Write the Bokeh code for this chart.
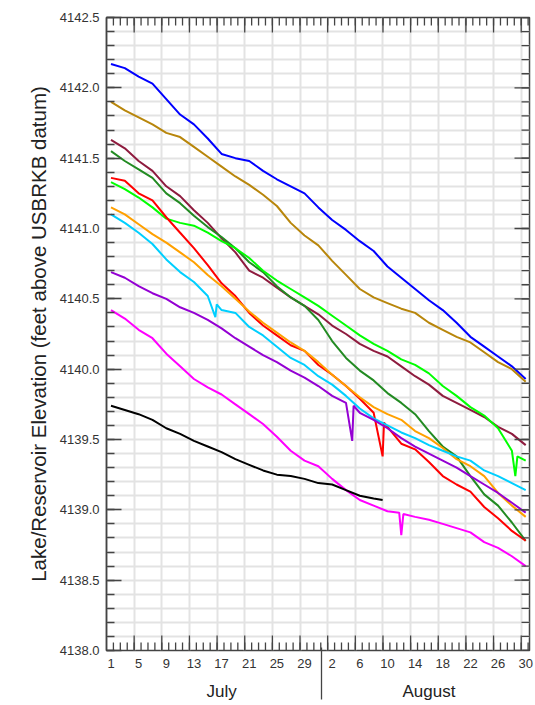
import math
from bokeh.plotting import figure
from bokeh.models import LinearAxis, FixedTicker, Grid, PrintfTickFormatter, Range1d
from bokeh.embed import file_html
from bokeh.resources import INLINE

# day number: July 1 = 1 ... July 31 = 31, Aug 1 = 32 ... Aug 31 = 62
days = [1, 3, 5, 7, 9, 11, 13, 15, 17, 19, 21, 23, 25, 27, 29, 31,
        33, 35, 37, 39, 41, 43, 45, 47, 49, 51, 53, 55, 57, 59, 61]

blue = [4142.17, 4142.14, 4142.08, 4142.03, 4141.92, 4141.81, 4141.74, 4141.64,
        4141.53, 4141.50, 4141.48, 4141.41, 4141.35, 4141.30, 4141.25, 4141.15,
        4141.06, 4140.99, 4140.91, 4140.84, 4140.73, 4140.65, 4140.57, 4140.49,
        4140.42, 4140.33, 4140.23, 4140.16, 4140.09, 4140.02, 4139.93]
gold = [4141.90, 4141.84, 4141.79, 4141.74, 4141.68, 4141.65, 4141.58, 4141.51,
        4141.44, 4141.37, 4141.31, 4141.24, 4141.16, 4141.04, 4140.95, 4140.88,
        4140.77, 4140.67, 4140.57, 4140.51, 4140.47, 4140.43, 4140.40, 4140.33,
        4140.28, 4140.23, 4140.19, 4140.12, 4140.05, 4140.00, 4139.91]
maroon = [4141.63, 4141.57, 4141.48, 4141.41, 4141.30, 4141.23, 4141.13, 4141.04,
          4140.93, 4140.83, 4140.70, 4140.65, 4140.58, 4140.51, 4140.45, 4140.39,
          4140.31, 4140.25, 4140.18, 4140.13, 4140.09, 4140.02, 4139.95, 4139.89,
          4139.81, 4139.76, 4139.71, 4139.66, 4139.59, 4139.54, 4139.46]
dkgreen = [4141.55, 4141.48, 4141.42, 4141.36, 4141.25, 4141.18, 4141.09, 4141.01,
           4140.94, 4140.86, 4140.76, 4140.69, 4140.59, 4140.51, 4140.45, 4140.35,
           4140.20, 4140.08, 4139.99, 4139.92, 4139.83, 4139.76, 4139.68, 4139.56,
           4139.45, 4139.38, 4139.24, 4139.11, 4139.03, 4138.91, 4138.78]
lime_days = days[:30] + [59.5, 59.8, 61]
lime = [4141.33, 4141.28, 4141.22, 4141.15, 4141.07, 4141.04, 4141.02, 4140.97,
        4140.91, 4140.86, 4140.79, 4140.70, 4140.63, 4140.57, 4140.51, 4140.45,
        4140.38, 4140.31, 4140.24, 4140.18, 4140.13, 4140.07, 4140.03, 4139.97,
        4139.88, 4139.81, 4139.73, 4139.67, 4139.58, 4139.42, 4139.24, 4139.38,
        4139.35]
red_days = days[:20] + [40.3, 40.5] + days[20:]
red = [4141.36, 4141.34, 4141.25, 4141.20, 4141.08, 4140.97, 4140.86, 4140.74,
       4140.61, 4140.52, 4140.40, 4140.31, 4140.24, 4140.17, 4140.13, 4140.03,
       4139.96, 4139.88, 4139.79, 4139.69, 4139.38, 4139.62, 4139.59, 4139.47,
       4139.43, 4139.34, 4139.24, 4139.18, 4139.13, 4139.02, 4138.94, 4138.85,
       4138.78]
orange = [4141.15, 4141.10, 4141.03, 4140.96, 4140.90, 4140.83, 4140.76, 4140.67,
          4140.59, 4140.50, 4140.41, 4140.33, 4140.26, 4140.19, 4140.13, 4140.05,
          4139.96, 4139.88, 4139.80, 4139.73, 4139.68, 4139.64, 4139.56, 4139.51,
          4139.44, 4139.36, 4139.31, 4139.24, 4139.12, 4139.03, 4138.95]
cyan_days = days[:8] + [16.1, 16.3] + days[8:]
cyan = [4141.10, 4141.04, 4140.97, 4140.89, 4140.78, 4140.69, 4140.62, 4140.52,
        4140.37, 4140.46, 4140.42, 4140.40, 4140.30, 4140.24, 4140.16, 4140.08,
        4140.03, 4139.95, 4139.89, 4139.81, 4139.72, 4139.65, 4139.60, 4139.55,
        4139.51, 4139.46, 4139.42, 4139.38, 4139.35, 4139.28, 4139.24, 4139.19,
        4139.14]
purple_days = days[:18] + [35.9, 36.1] + days[18:]
purple = [4140.69, 4140.65, 4140.59, 4140.54, 4140.50, 4140.44, 4140.40, 4140.35,
          4140.29, 4140.22, 4140.16, 4140.10, 4140.05, 4139.99, 4139.94, 4139.88,
          4139.81, 4139.76, 4139.49, 4139.74, 4139.69, 4139.64, 4139.58, 4139.51,
          4139.45, 4139.40, 4139.35, 4139.30, 4139.24, 4139.18, 4139.12, 4139.05,
          4138.98]
magenta_days = days[:21] + [42.7, 43.0, 43.3] + days[22:]
magenta = [4140.42, 4140.36, 4140.28, 4140.22, 4140.11, 4140.02, 4139.93, 4139.87,
           4139.82, 4139.75, 4139.68, 4139.61, 4139.52, 4139.42, 4139.35, 4139.31,
           4139.22, 4139.14, 4139.07, 4139.03, 4138.99, 4138.98, 4138.82, 4138.97,
           4138.95, 4138.93, 4138.90, 4138.87, 4138.84, 4138.77, 4138.73, 4138.67,
           4138.60]
black_days = [1, 3, 5, 7, 9, 11, 13, 15, 17, 19, 21, 23, 25, 27, 29, 31,
              33, 35, 37, 39, 40.3]
black = [4139.74, 4139.71, 4139.68, 4139.64, 4139.58, 4139.54, 4139.49, 4139.45,
         4139.41, 4139.36, 4139.32, 4139.28, 4139.25, 4139.24, 4139.22, 4139.19,
         4139.18, 4139.14, 4139.10, 4139.08, 4139.07]

series = [
    (days, blue, "#0000FF"),
    (days, gold, "#B8860B"),
    (days, maroon, "#8E1B3E"),
    (days, dkgreen, "#228B22"),
    (lime_days, lime, "#00FF00"),
    (red_days, red, "#FF0000"),
    (days, orange, "#FFA000"),
    (cyan_days, cyan, "#00CFFF"),
    (purple_days, purple, "#9400D3"),
    (magenta_days, magenta, "#FF00FF"),
    (black_days, black, "#000000"),
]

label_days = [1, 5, 9, 13, 17, 21, 25, 29, 33, 37, 41, 45, 49, 53, 57, 61]
label_text = ["1", "5", "9", "13", "17", "21", "25", "29",
              "2", "6", "10", "14", "18", "22", "26", "30"]
month_days = [17, 47]
month_text = ["July", "August"]
month_break = 31.5
y_major = [4138.0, 4138.5, 4139.0, 4139.5, 4140.0, 4140.5, 4141.0, 4141.5, 4142.0, 4142.5]

FONT = "Liberation Sans"
AX = "#444444"
X0, X1 = 0.35, 61.55
Y0, Y1 = 4138.0, 4142.5

p = figure(width=535, height=705, output_backend="svg", toolbar_location=None,
           x_axis_type=None, y_axis_type=None,
           x_range=Range1d(X0, X1), y_range=Range1d(Y0, Y1))
p.min_border_left = 106
p.min_border_right = 6
p.min_border_top = 17
p.min_border_bottom = 55
p.outline_line_color = AX
p.outline_line_width = 1.5
p.background_fill_color = "white"
p.border_fill_color = "white"

x_grid_pos = [4.35 + 4 * k for k in range(15)]
x_minor = [X0 + k for k in range(1, 62)]
y_minor = [round(Y0 + 0.1 * k, 1) for k in range(46)]

p.add_layout(Grid(dimension=0, ticker=FixedTicker(ticks=x_grid_pos),
                  grid_line_color="#e3e3e3", grid_line_width=2), "center")
p.add_layout(Grid(dimension=1, ticker=FixedTicker(ticks=y_minor),
                  grid_line_color="#e3e3e3", grid_line_width=2), "center")

for xs, ys, c in series:
    p.line(xs, ys, line_color=c, line_width=2)

# inward tick marks on bottom, top and right edges (half of each dash is clipped by the frame)
for yv in (Y0, Y1):
    p.scatter(x=x_minor, y=[yv] * len(x_minor), marker="dash", angle=math.pi / 2,
              size=16, line_color=AX, line_width=1.3)
    p.scatter(x=x_grid_pos, y=[yv] * len(x_grid_pos), marker="dash", angle=math.pi / 2,
              size=30, line_color=AX, line_width=1.3)
p.scatter(x=[X1] * len(y_minor), y=y_minor, marker="dash", size=16,
          line_color=AX, line_width=1.3)
p.scatter(x=[X1] * len(y_major), y=y_major, marker="dash", size=30,
          line_color=AX, line_width=1.3)

# left axis with labels
ay = LinearAxis(ticker=FixedTicker(ticks=y_major, minor_ticks=y_minor),
                formatter=PrintfTickFormatter(format="%.1f"),
                axis_label="Lake/Reservoir Elevation (feet above USBRKB datum)")
ay.axis_line_color = AX
ay.axis_line_width = 1.5
ay.major_tick_line_color = AX
ay.minor_tick_line_color = AX
ay.major_tick_line_width = 1.3
ay.minor_tick_line_width = 1.3
ay.major_tick_out = 0
ay.minor_tick_out = 0
ay.major_tick_in = 15
ay.minor_tick_in = 8
ay.major_label_text_font = FONT
ay.major_label_text_font_size = "13px"
ay.major_label_text_color = "#333333"
ay.major_label_standoff = 7
ay.axis_label_text_font = FONT
ay.axis_label_text_font_size = "20.5px"
ay.axis_label_text_font_style = "normal"
ay.axis_label_text_color = "#222222"
ay.axis_label_standoff = 7
p.add_layout(ay, "left")

# bottom day labels
al = LinearAxis(ticker=FixedTicker(ticks=label_days, minor_ticks=[]),
                major_label_overrides={d: t for d, t in zip(label_days, label_text)})
al.axis_line_color = None
al.major_tick_line_color = None
al.minor_tick_line_color = None
al.major_tick_in = 0
al.major_tick_out = 0
al.minor_tick_in = 0
al.minor_tick_out = 0
al.major_label_text_font = FONT
al.major_label_text_font_size = "13px"
al.major_label_text_color = "#333333"
al.major_label_standoff = 8
p.add_layout(al, "below")

# month labels, with the month divider drawn as a minor tick
am = LinearAxis(ticker=FixedTicker(ticks=month_days, minor_ticks=[month_break]),
                major_label_overrides={d: t for d, t in zip(month_days, month_text)})
am.axis_line_color = None
am.major_tick_line_color = None
am.major_tick_in = 0
am.major_tick_out = 0
am.minor_tick_line_color = AX
am.minor_tick_line_width = 1.3
am.minor_tick_in = 23
am.minor_tick_out = 29
am.major_label_text_font = FONT
am.major_label_text_font_size = "17px"
am.major_label_text_color = "#222222"
am.major_label_standoff = -18
p.add_layout(am, "below")

open("out.html", "w").write(file_html(p, INLINE))
